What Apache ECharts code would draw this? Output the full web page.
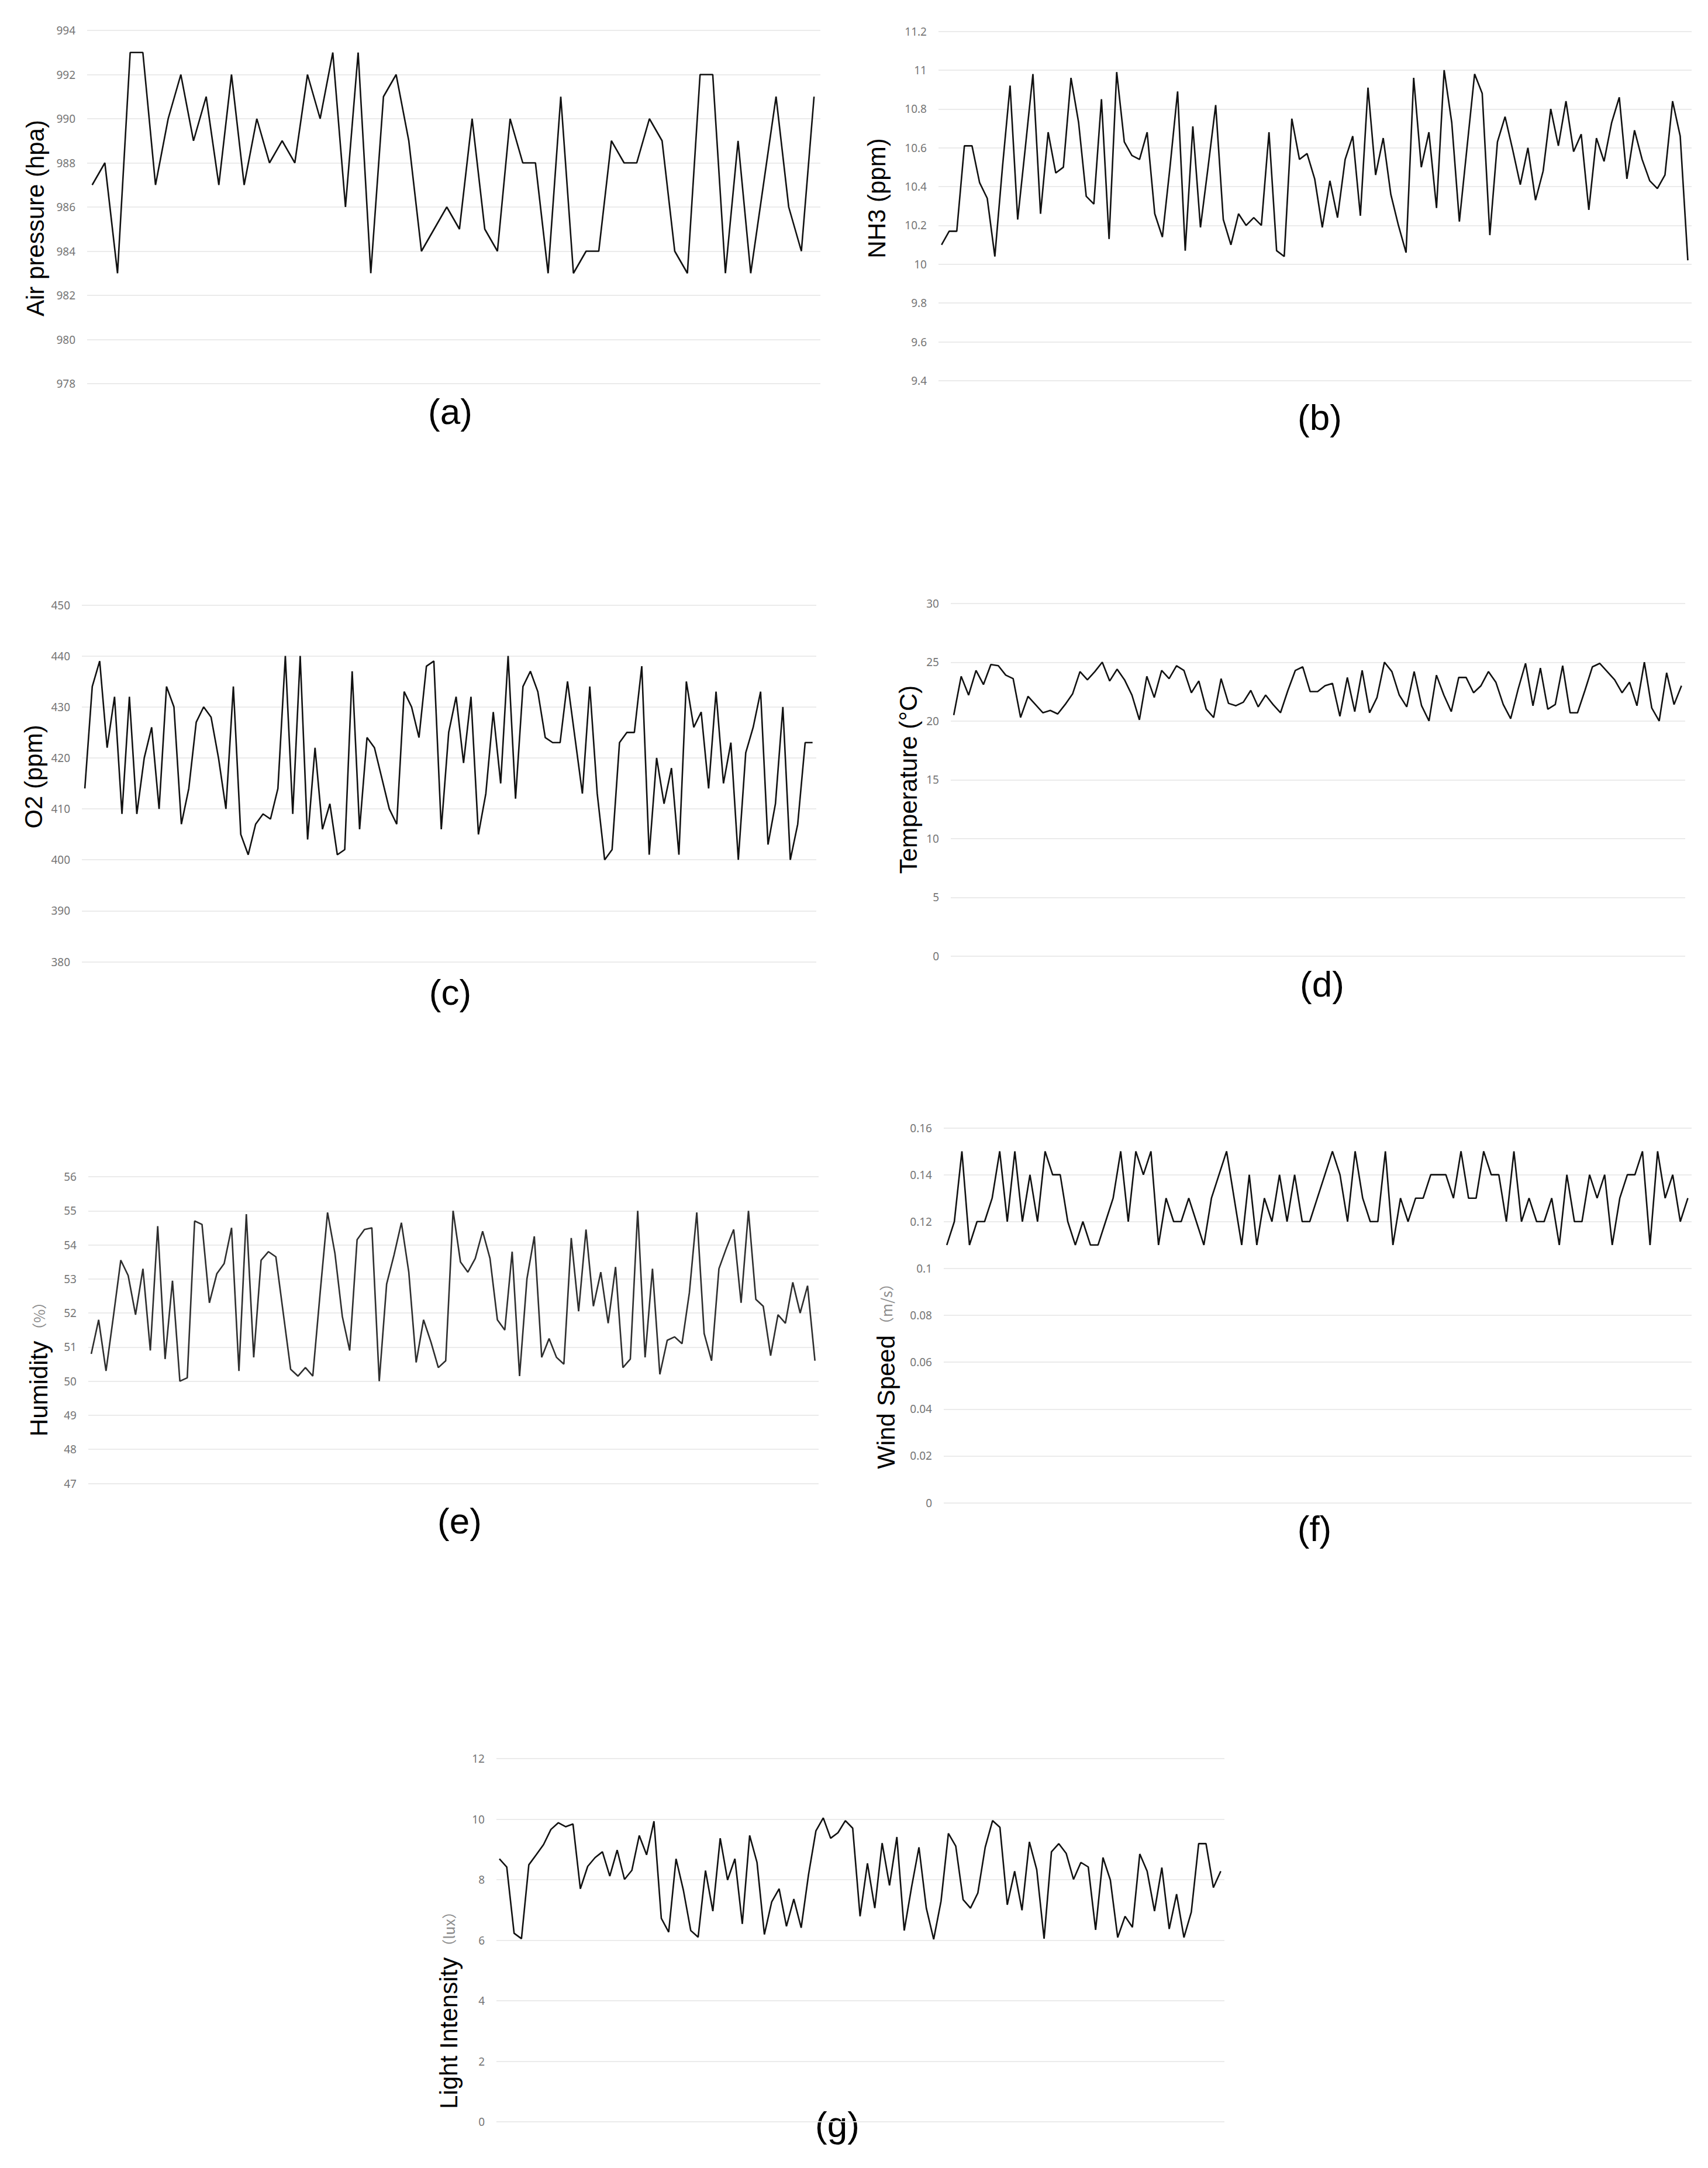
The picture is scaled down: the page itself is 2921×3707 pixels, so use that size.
<!DOCTYPE html>
<html>
<head>
<meta charset="utf-8">
<script src="https://cdn.jsdelivr.net/npm/echarts@6/dist/echarts.min.js"></script>
<style>
html,body{margin:0;padding:0;background:#fff;}
#chart{width:2921px;height:3707px;}
</style>
</head>
<body>
<div id="chart"></div>
<script>
// ---- data ----
const airPressure = [987,988,983,993,993,987,990,992,989,991,987,992,987,990,988,989,988,992,990,993,986,993,983,991,992,989,984,985,986,985,990,985,984,990,988,988,983,991,983,984,984,989,988,988,990,989,984,983,992,992,983,989,983,987,991,986,984,991];
const nh3 = [10.10,10.17,10.17,10.61,10.61,10.42,10.34,10.04,10.50,10.92,10.23,10.60,10.98,10.26,10.68,10.47,10.50,10.96,10.73,10.35,10.31,10.85,10.13,10.99,10.63,10.56,10.54,10.68,10.26,10.14,10.50,10.89,10.07,10.71,10.19,10.50,10.82,10.23,10.10,10.26,10.20,10.24,10.20,10.68,10.07,10.04,10.75,10.54,10.57,10.44,10.19,10.43,10.24,10.54,10.66,10.25,10.91,10.46,10.65,10.36,10.20,10.06,10.96,10.50,10.68,10.29,11.00,10.73,10.22,10.60,10.98,10.88,10.15,10.63,10.76,10.59,10.41,10.60,10.33,10.48,10.80,10.61,10.84,10.58,10.67,10.28,10.65,10.53,10.73,10.86,10.44,10.69,10.54,10.43,10.39,10.46,10.84,10.66,10.02];
const o2 = [414,434,439,422,432,409,432,409,420,426,410,434,430,407,414,427,430,428,420,410,434,405,401,407,409,408,414,440,409,440,404,422,406,411,401,402,437,406,424,422,416,410,407,433,430,424,438,439,406,425,432,419,432,405,413,429,415,440,412,434,437,433,424,423,423,435,424,413,434,413,400,402,423,425,425,438,401,420,411,418,401,435,426,429,414,433,415,423,400,421,426,433,403,411,430,400,407,423,423];
const temperature = [20.5,23.8,22.2,24.3,23.1,24.8,24.7,23.9,23.6,20.3,22.1,21.4,20.7,20.9,20.6,21.4,22.3,24.2,23.5,24.2,25.0,23.4,24.4,23.5,22.2,20.1,23.8,22.0,24.3,23.6,24.7,24.3,22.4,23.4,21.0,20.3,23.6,21.5,21.3,21.6,22.6,21.2,22.2,21.4,20.7,22.6,24.3,24.6,22.5,22.5,23.0,23.2,20.4,23.7,20.8,24.3,20.7,22.0,25.0,24.2,22.2,21.2,24.2,21.3,20.0,23.9,22.2,20.8,23.7,23.7,22.4,23.0,24.2,23.3,21.4,20.2,22.7,24.9,21.3,24.5,21.0,21.4,24.7,20.7,20.7,22.6,24.6,24.9,24.2,23.5,22.4,23.3,21.3,25.0,21.1,20.0,24.1,21.4,23.0];
const humidity = [50.8,51.8,50.3,51.9,53.55,53.1,51.95,53.3,50.9,54.55,50.65,52.95,50.0,50.1,54.7,54.6,52.3,53.15,53.45,54.5,50.3,54.9,50.7,53.55,53.8,53.65,52.0,50.35,50.15,50.4,50.15,52.6,54.95,53.75,51.9,50.9,54.15,54.45,54.5,50.0,52.85,53.7,54.65,53.2,50.55,51.8,51.15,50.4,50.6,55.0,53.5,53.2,53.6,54.4,53.6,51.8,51.5,53.8,50.15,53.0,54.25,50.7,51.25,50.7,50.5,54.2,52.05,54.45,52.2,53.2,51.7,53.35,50.4,50.65,55.0,50.7,53.3,50.2,51.2,51.3,51.1,52.6,54.95,51.4,50.6,53.3,53.9,54.45,52.3,55.0,52.4,52.2,50.75,51.95,51.7,52.9,52.0,52.8,50.6];
const windSpeed = [0.11,0.12,0.15,0.11,0.12,0.12,0.13,0.15,0.12,0.15,0.12,0.14,0.12,0.15,0.14,0.14,0.12,0.11,0.12,0.11,0.11,0.12,0.13,0.15,0.12,0.15,0.14,0.15,0.11,0.13,0.12,0.12,0.13,0.12,0.11,0.13,0.14,0.15,0.13,0.11,0.14,0.11,0.13,0.12,0.14,0.12,0.14,0.12,0.12,0.13,0.14,0.15,0.14,0.12,0.15,0.13,0.12,0.12,0.15,0.11,0.13,0.12,0.13,0.13,0.14,0.14,0.14,0.13,0.15,0.13,0.13,0.15,0.14,0.14,0.12,0.15,0.12,0.13,0.12,0.12,0.13,0.11,0.14,0.12,0.12,0.14,0.13,0.14,0.11,0.13,0.14,0.14,0.15,0.11,0.15,0.13,0.14,0.12,0.13];
const lightIntensity = [8.69,8.42,6.23,6.05,8.49,8.82,9.16,9.66,9.88,9.75,9.84,7.70,8.44,8.73,8.92,8.12,8.98,8.01,8.31,9.46,8.82,9.93,6.72,6.27,8.69,7.65,6.32,6.10,8.30,6.96,9.37,7.99,8.69,6.54,9.46,8.57,6.19,7.27,7.70,6.46,7.36,6.41,8.17,9.61,10.04,9.37,9.55,9.95,9.70,6.79,8.54,7.06,9.21,7.81,9.41,6.32,7.76,9.07,7.06,6.03,7.29,9.53,9.11,7.34,7.06,7.56,9.07,9.95,9.73,7.17,8.28,6.99,9.25,8.33,6.05,8.92,9.19,8.87,8.01,8.57,8.42,6.34,8.73,7.99,6.09,6.79,6.43,8.85,8.28,6.96,8.40,6.37,7.52,6.09,6.93,9.19,9.19,7.74,8.28];

// axis ranges (min, max, interval) and titles
const yRanges = [[978,994,2],[9.4,11.2,0.2],[380,450,10],[0,30,5],[47,56,1],[0,0.16,0.02],[0,12,2]];
const axisTitles = [['Air pressure (hpa)',''],['NH3 (ppm)',''],['O2 (ppm)',''],['Temperature (°C)',''],['Humidity','（%）'],['Wind Speed','（m/s）'],['Light Intensity','（lux）']];
const panelLabels = ['(a)','(b)','(c)','(d)','(e)','(f)','(g)'];
const seriesList = [airPressure, nh3, o2, temperature, humidity, windSpeed, lightIntensity];

// ---- layout (pixels) ----
const grids = [
  {left:149, top:52, width:1254, height:604},
  {left:1605, top:53.5, width:1288, height:597.5},
  {left:140, top:1034.5, width:1256, height:610},
  {left:1626, top:1031.7, width:1256, height:603.3},
  {left:151, top:2012, width:1249, height:524.5},
  {left:1614, top:1928.5, width:1279, height:641},
  {left:849, top:3007, width:1245, height:621}
];
const titlePos = [[60,373],[1499,339],[57,1328],[1553,1333],[66,2333],[1515,2345],[767,3429]];
const labelPos = [[770,703],[2257,713],[770,1696],[2261,1682],[786,2600],[2248,2613],[1432,3632]];
const lineColors = ['#111','#111','#111','#111','#2e2e2e','#111','#111'];

const chart = echarts.init(document.getElementById('chart'), null, {renderer:'svg'});

const option = {
  backgroundColor:'#fff',
  animation:false,
  grid: grids.map(g => Object.assign({containLabel:false}, g)),
  xAxis: seriesList.map((s,i) => ({
    type:'value', gridIndex:i, min:-0.4, max:s.length-0.5, show:false
  })),
  yAxis: yRanges.map((r,i) => ({
    type:'value', gridIndex:i, min:r[0], max:r[1], interval:r[2],
    axisLine:{show:false}, axisTick:{show:false},
    axisLabel:{color:'#767676', fontSize:19, fontFamily:'Noto Sans', margin:20},
    splitLine:{lineStyle:{color:'#ebebeb', width:2}}
  })),
  series: seriesList.map((s,i) => ({
    type:'line', xAxisIndex:i, yAxisIndex:i,
    data: s.map((v,k) => [k,v]),
    showSymbol:false, symbol:'none',
    lineStyle:{color:lineColors[i], width:2.6},
    silent:true
  })),
  graphic: [].concat(
    axisTitles.map((t,i) => ({
      type:'text', x:titlePos[i][0], y:titlePos[i][1], rotation:Math.PI/2,
      style:{
        text: t[1] ? '{a|'+t[0]+'}{b|'+t[1]+'}' : '{a|'+t[0]+'}',
        align:'center', verticalAlign:'middle',
        rich:{
          a:{fontSize:42, fontFamily:'Liberation Sans', fill:'#000', verticalAlign:'middle'},
          b:{fontSize:25, fontFamily:'Noto Sans CJK SC', fill:'#8c8c8c', verticalAlign:'middle', padding:[0,4,0,6]}
        }
      }
    })),
    panelLabels.map((t,i) => ({
      type:'text', x:labelPos[i][0], y:labelPos[i][1],
      style:{text:t, fontSize:62, fontFamily:'Liberation Sans', fill:'#000', align:'center', verticalAlign:'middle'}
    }))
  )
};
chart.setOption(option);
</script>
</body>
</html>
